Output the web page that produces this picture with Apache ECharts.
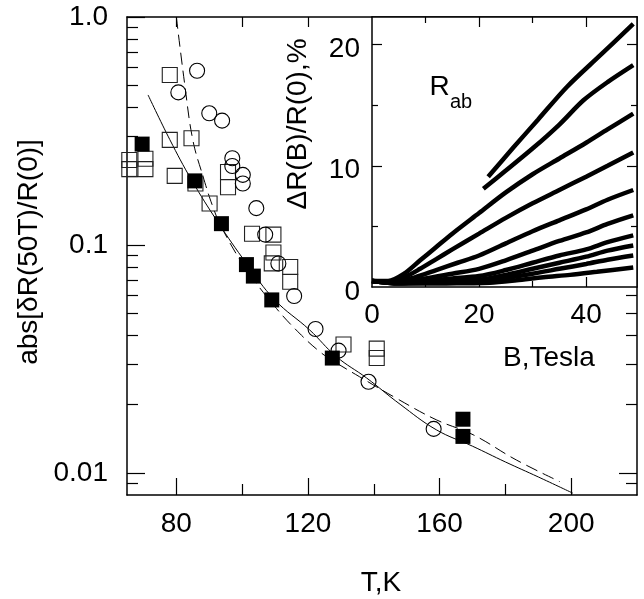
<!DOCTYPE html>
<html><head><meta charset="utf-8">
<script src="https://cdn.jsdelivr.net/npm/echarts@6/dist/echarts.min.js"></script>
<style>html,body{margin:0;padding:0;background:#fff}#c{width:644px;height:599px}</style>
</head><body><div id="c"></div>
<script>
// ---------------- main panel data: T (K) and abs[dR(50T)/R(0)] ----------------
const T_filled = [63.8, 69.6, 85.6, 93.7, 101.3, 103.4, 109.0, 127.4, 167.1, 167.1];
const V_filled = [0.286, 0.277, 0.191, 0.124, 0.082, 0.073, 0.0574, 0.0319, 0.0172, 0.01446];

const T_openSq = [65.7, 65.7, 70.6, 70.6, 78.0, 78.0, 79.5, 84.6, 85.8, 90.1, 95.7, 95.7, 103.0, 109.5, 109.5, 109.0, 114.6, 114.6, 130.8, 140.9, 140.9];
const V_openSq = [0.236, 0.215, 0.239, 0.215, 0.557, 0.289, 0.201, 0.294, 0.186, 0.152, 0.209, 0.179, 0.112, 0.111, 0.0927, 0.083, 0.080, 0.069, 0.0366, 0.0351, 0.0319];

const T_circle = [86.3, 80.6, 90.0, 93.9, 97.0, 97.0, 100.2, 100.2, 104.3, 107.0, 111.0, 115.8, 122.3, 129.3, 138.4, 158.2];
const V_circle = [0.581, 0.467, 0.378, 0.351, 0.240, 0.222, 0.203, 0.186, 0.145, 0.111, 0.0829, 0.0597, 0.0428, 0.0344, 0.0251, 0.0156];

const T_solid = [71.4, 78.0, 84.6, 92.6, 101.3, 109.9, 120.5, 128.6, 137.8, 148.0, 159.0, 170.0, 180.0, 190.0, 200.5];
const V_solid = [0.455, 0.290, 0.193, 0.126, 0.083, 0.0574, 0.0424, 0.0324, 0.0261, 0.0200, 0.01546, 0.0131, 0.01117, 0.0096, 0.00815];

const T_dash = [80.0, 82.5, 85.0, 88.1, 91.1, 93.8, 100.8, 110.4, 118.0, 123.6, 127.2, 135.7, 147.0, 159.0, 170.2, 183.3, 196.5];
const V_dash = [1.0, 0.512, 0.289, 0.200, 0.147, 0.119, 0.0800, 0.0527, 0.0402, 0.0340, 0.0313, 0.0264, 0.0212, 0.0171, 0.0147, 0.0114, 0.00916];

// ---------------- inset data: B (Tesla) vs dR(B)/R(0), % ----------------
const rab1  = [[21.7,9.1],[26.4,11.5],[31,13.8],[36.4,16.5],[42.6,19.1],[48.8,21.7]];
const rab2  = [[20.8,8.1],[25,9.6],[30.2,11.5],[35,13.4],[39.5,15.4],[44,16.9],[48.8,18.3]];
const rab3  = [[0,0.5],[3,0.5],[6,1.1],[9,2.2],[12,3.3],[15,4.4],[20,6.1],[25,7.8],[30,9.3],[35,10.6],[40,11.9],[44,13.0],[48.8,14.3]];
const rab4  = [[0,0.5],[3,0.45],[6,0.8],[9,1.5],[12,2.3],[15,3.1],[20,4.4],[25,5.7],[30,6.9],[35,8.0],[40,9.1],[44,10.0],[48.8,11.1]];
const rab5  = [[0,0.5],[4,0.4],[8,0.8],[12,1.4],[16,2.0],[20,2.6],[25,3.6],[30,4.6],[35,5.5],[40,6.4],[44,7.2],[48.8,8.0]];
const rab6  = [[0,0.5],[5,0.35],[10,0.7],[15,1.1],[20,1.5],[25,2.2],[30,3.0],[35,3.8],[40,4.5],[44,5.2],[48.8,5.9]];
const rab7  = [[0,0.5],[5,0.3],[10,0.5],[15,0.7],[20,0.9],[25,1.4],[30,2.0],[35,2.6],[40,3.1],[44,3.7],[48.8,4.26]];
const rab8  = [[0,0.5],[5,0.3],[12,0.4],[20,0.6],[25,1.0],[30,1.5],[35,2.0],[40,2.5],[44,3.0],[48.8,3.43]];
const rab9  = [[0,0.5],[5,0.3],[12,0.3],[20,0.45],[25,0.75],[30,1.1],[35,1.5],[40,1.9],[44,2.25],[48.8,2.6]];
const rab10 = [[0,0.5],[5,0.3],[15,0.3],[22,0.35],[27,0.55],[32,0.8],[37,1.0],[42,1.25],[48.8,1.6]];
const rabCurves = [rab1, rab2, rab3, rab4, rab5, rab6, rab7, rab8, rab9, rab10];

// ---------------- ticks ----------------
const xMajorTicks = [80, 120, 160, 200];
const xMinorTicks = [100, 140, 180];
const yMajorTicks = [0.01, 0.1, 1.0];
const yTickLabels = ['0.01', '0.1', '1.0'];
const yMinorTicks = [0.009, 0.02, 0.03, 0.04, 0.05, 0.06, 0.07, 0.08, 0.09, 0.2, 0.3, 0.4, 0.5, 0.6, 0.7, 0.8, 0.9];
const bMajorTicks = [0, 20, 40];
const bMinorTicks = [10, 30];
const rMajorTicks = [0, 10, 20];
const rMinorTicks = [5, 15];

const FONT = '"Liberation Sans", Arial, sans-serif';
const FS = 28;
const L = v => Math.log10(v);
const chart = echarts.init(document.getElementById('c'));

function ax(grid, pos, min, max, ticks, len, opts) {
  return Object.assign({
    gridIndex: grid, type: 'value', position: pos, min: min, max: max,
    axisLine: {show: false, onZero: false, lineStyle: {color: '#000', width: 1.5}},
    axisTick: {show: true, inside: true, length: len, customValues: ticks, lineStyle: {color: '#000', width: 1.2}},
    axisLabel: {show: false},
    splitLine: {show: false}
  }, opts || {});
}
const line = {show: true, onZero: false, lineStyle: {color: '#000', width: 1.5}};

const mainYMin = L(0.008), mainYMax = 0;
const insetXMax = 49.5, insetYMax = 22.27;

const labelStyle = {fontSize: FS, color: '#000', fontFamily: FONT};

const xAxes = [
  ax(0, 'bottom', 65, 220, xMajorTicks, 17, {
    axisLine: line,
    axisLabel: Object.assign({show: true, customValues: xMajorTicks, margin: 15}, labelStyle)
  }),
  ax(0, 'bottom', 65, 220, xMinorTicks, 11),
  ax(0, 'top', 65, 220, [80, 100, 120], 10, {axisLine: line}),
  ax(1, 'bottom', 0, insetXMax, [20, 40], 10, {
    axisLine: line,
    axisLabel: Object.assign({show: true, customValues: bMajorTicks, margin: 14}, labelStyle), z: 6
  }),
  ax(1, 'bottom', 0, insetXMax, bMinorTicks, 6, {z: 6}),
  ax(1, 'top', 0, insetXMax, [20, 40], 10, {axisLine: line, z: 6}),
  ax(1, 'top', 0, insetXMax, bMinorTicks, 6, {z: 6})
];

const yAxes = [
  ax(0, 'left', mainYMin, mainYMax, yMajorTicks.map(L), 18, {
    axisLine: line,
    axisLabel: Object.assign({show: true, customValues: yMajorTicks.map(L), margin: 19,
      formatter: v => yTickLabels[Math.round(v) + 2]}, labelStyle)
  }),
  ax(0, 'left', mainYMin, mainYMax, yMinorTicks.map(L), 11),
  ax(0, 'right', mainYMin, mainYMax, [L(0.01)], 18, {axisLine: line}),
  ax(0, 'right', mainYMin, mainYMax, yMinorTicks.map(L), 11),
  ax(1, 'left', 0, insetYMax, [10, 20], 10, {
    axisLine: line,
    axisLabel: Object.assign({show: true, customValues: rMajorTicks, margin: 12,
      formatter: v => '{p|' + v + '}',
      rich: {p: {fontSize: FS, color: '#000', fontFamily: FONT, padding: [10, 0, 0, 0]}}}, labelStyle), z: 6
  }),
  ax(1, 'left', 0, insetYMax, rMinorTicks, 6, {z: 6}),
  ax(1, 'right', 0, insetYMax, [10, 20], 10, {axisLine: line, z: 6}),
  ax(1, 'right', 0, insetYMax, rMinorTicks, 6, {z: 6})
];

const zip = (a, b) => a.map((v, i) => [v, L(b[i])]);

const series = [
  {type: 'line', xAxisIndex: 0, yAxisIndex: 0, data: zip(T_solid, V_solid), smooth: 0.4, showSymbol: false,
   lineStyle: {color: '#000', width: 1}, clip: true, z: 2, silent: true},
  {type: 'line', xAxisIndex: 0, yAxisIndex: 0, data: zip(T_dash, V_dash), smooth: 0.4, showSymbol: false,
   lineStyle: {color: '#000', width: 1, type: [12, 6]}, clip: true, z: 2, silent: true},
  {type: 'scatter', xAxisIndex: 0, yAxisIndex: 0, data: zip(T_openSq, V_openSq), symbol: 'rect', symbolSize: 15,
   itemStyle: {color: 'rgba(0,0,0,0)', borderColor: '#222', borderWidth: 1.1, opacity: 1}, clip: true, z: 3, silent: true},
  {type: 'scatter', xAxisIndex: 0, yAxisIndex: 0, data: zip(T_circle, V_circle), symbol: 'circle', symbolSize: 15,
   itemStyle: {color: 'rgba(0,0,0,0)', borderColor: '#000', borderWidth: 1.1, opacity: 1}, clip: true, z: 3, silent: true},
  {type: 'scatter', xAxisIndex: 0, yAxisIndex: 0, data: zip(T_filled, V_filled), symbol: 'rect', symbolSize: 15,
   itemStyle: {color: '#000', opacity: 1}, clip: true, z: 4, silent: true}
];
rabCurves.forEach(c => series.push({
  type: 'line', xAxisIndex: 3, yAxisIndex: 4, data: c, smooth: 0.3, showSymbol: false,
  lineStyle: {color: '#000', width: 4.5}, clip: true, z: 7, silent: true
}));

chart.setOption({
  animation: false,
  backgroundColor: '#fff',
  grid: [
    {left: 127, top: 17, width: 510, height: 478, show: false},
    {left: 372, top: 17, width: 265, height: 270, show: true, backgroundColor: '#fff', borderWidth: 0, z: 5}
  ],
  xAxis: xAxes,
  yAxis: yAxes,
  series: series,
  graphic: [
    {type: 'text', x: 29, y: 252, rotation: Math.PI / 2, z: 20,
     style: {text: 'abs[δR(50T)/R(0)]', font: FS + 'px ' + FONT, fill: '#000', align: 'center', verticalAlign: 'middle'}},
    {type: 'text', x: 381, y: 583, z: 20,
     style: {text: 'T,K', font: FS + 'px ' + FONT, fill: '#000', align: 'center', verticalAlign: 'middle'}},
    {type: 'text', x: 298, y: 124, rotation: Math.PI / 2, z: 20,
     style: {text: 'ΔR(B)/R(0),%', font: FS + 'px ' + FONT, fill: '#000', align: 'center', verticalAlign: 'middle'}},
    {type: 'text', x: 549, y: 358, z: 20,
     style: {text: 'B,Tesla', font: FS + 'px ' + FONT, fill: '#000', align: 'center', verticalAlign: 'middle'}},
    {type: 'text', x: 439.5, y: 87, z: 20,
     style: {text: 'R', font: FS + 'px ' + FONT, fill: '#000', align: 'center', verticalAlign: 'middle'}},
    {type: 'text', x: 461, y: 102, z: 20,
     style: {text: 'ab', font: '20px ' + FONT, fill: '#000', align: 'center', verticalAlign: 'middle'}}
  ]
});
</script>
</body></html>
